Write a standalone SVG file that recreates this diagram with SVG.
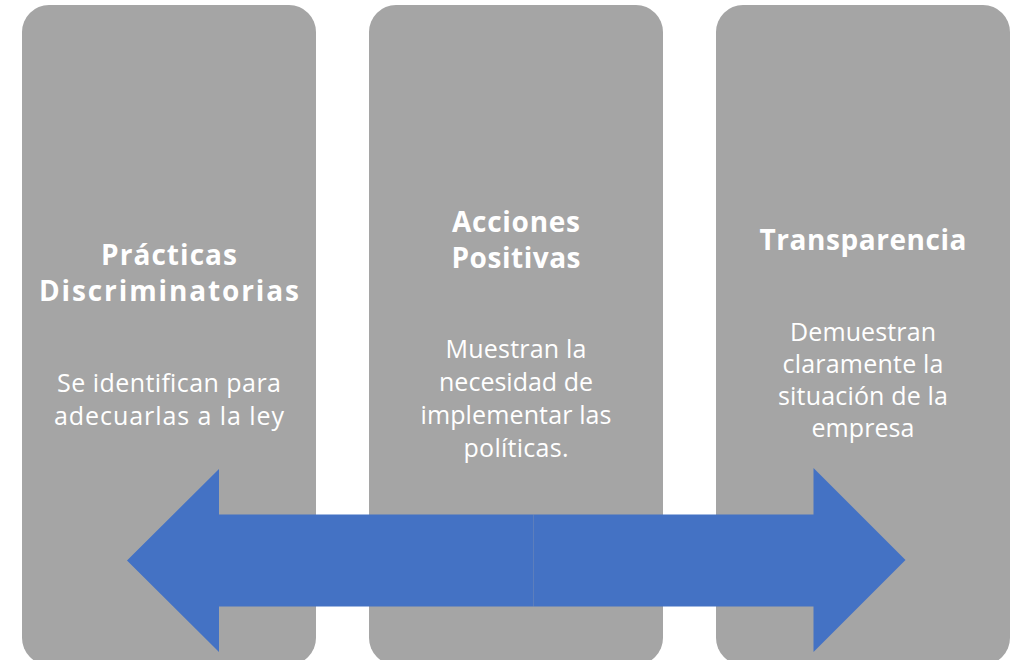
<svg xmlns="http://www.w3.org/2000/svg" width="1020" height="660" viewBox="0 0 1020 660">
<style>
.box{fill:#A5A5A5}
.t{font-family:"Open Sans","DejaVu Sans",sans-serif;fill:#FFFFFF;text-anchor:middle}
.h{font-weight:bold;font-size:28px}
.b{font-size:25px}
.arr{fill:#4472C4}
</style>
<rect width="1020" height="660" fill="#FFFFFF"/>
<g id="node-practicas">
<rect class="box" x="22" y="5" width="294" height="660" rx="27" ry="27"/>
<text class="t h" x="169" y="265" textLength="136" lengthAdjust="spacing">Prácticas</text>
<text class="t h" x="169" y="301" textLength="260" lengthAdjust="spacing">Discriminatorias</text>
<text class="t b" x="169" y="392" textLength="224" lengthAdjust="spacing">Se identifican para</text>
<text class="t b" x="169" y="425" textLength="230" lengthAdjust="spacing">adecuarlas a la ley</text>
</g>
<g id="node-acciones">
<rect class="box" x="369" y="5" width="294" height="660" rx="27" ry="27"/>
<text class="t h" x="516" y="232" textLength="128" lengthAdjust="spacing">Acciones</text>
<text class="t h" x="516" y="268" textLength="129" lengthAdjust="spacing">Positivas</text>
<text class="t b" x="516" y="358" textLength="141" lengthAdjust="spacing">Muestran la</text>
<text class="t b" x="516" y="391" textLength="154" lengthAdjust="spacing">necesidad de</text>
<text class="t b" x="516" y="424" textLength="191" lengthAdjust="spacing">implementar las</text>
<text class="t b" x="516" y="457" textLength="105" lengthAdjust="spacing">políticas.</text>
</g>
<g id="node-transparencia">
<rect class="box" x="716" y="5" width="294" height="660" rx="27" ry="27"/>
<text class="t h" x="863" y="250" textLength="207" lengthAdjust="spacing">Transparencia</text>
<text class="t b" x="863" y="341" textLength="146" lengthAdjust="spacing">Demuestran</text>
<text class="t b" x="863" y="373" textLength="161" lengthAdjust="spacing">claramente la</text>
<text class="t b" x="863" y="405" textLength="170" lengthAdjust="spacing">situación de la</text>
<text class="t b" x="863" y="437" textLength="103" lengthAdjust="spacing">empresa</text>
</g>
<g id="connectors">
<polygon class="arr" points="127,560.5 219,469 219,514.5 533.5,514.5 533.5,606.5 219,606.5 219,652"/>
<polygon class="arr" points="905.5,560 813.5,468 813.5,514.5 533.5,514.5 533.5,606.5 813.5,606.5 813.5,652"/>
</g>
</svg>
